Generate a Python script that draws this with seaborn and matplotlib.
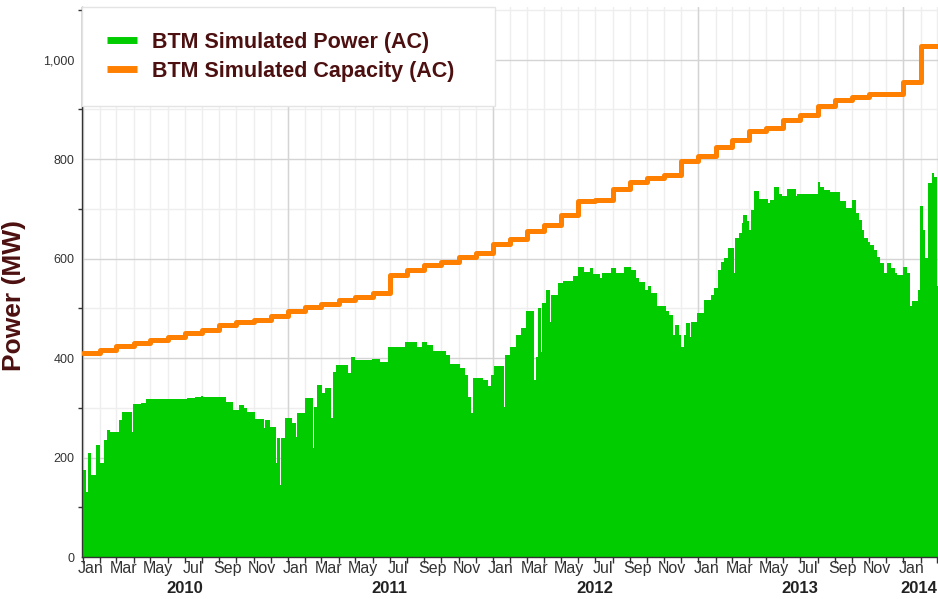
import numpy as np
import pandas as pd
import seaborn as sns
import matplotlib.pyplot as plt
import matplotlib.dates as mdates
from matplotlib.ticker import MultipleLocator, FuncFormatter
from matplotlib.lines import Line2D
from matplotlib.transforms import blended_transform_factory

# Daily simulated power, stored as change points (days after 2010-01-01) and MW level
START = pd.Timestamp('2010-01-01')
END_DAY = 1523

power_day = [0, 6, 8, 15, 23, 30, 37, 42, 48, 64, 70, 87, 89, 104, 113, 131, 185, 200, 210, 214,
             255, 267, 277, 286, 292, 307, 322, 324, 333, 343, 345, 350, 352, 360, 372, 379, 381,
             396, 409, 412, 416, 425, 431, 441, 445, 451, 472, 477, 484, 514, 515, 528, 543, 573,
             594, 603, 612, 624, 647, 653, 671, 680, 685, 691, 694, 713, 722, 726, 732, 749, 751,
             760, 771, 780, 789, 803, 806, 810, 816, 818, 825, 831, 833, 846, 855, 872, 881, 893,
             902, 908, 920, 925, 940, 949, 964, 976, 985, 990, 1000, 1006, 1012, 1023, 1038, 1044,
             1050, 1054, 1062, 1065, 1070, 1074, 1080, 1082, 1094, 1106, 1119, 1124, 1130, 1136,
             1142, 1148, 1159, 1161, 1168, 1173, 1176, 1182, 1186, 1189, 1195, 1204, 1219, 1224,
             1231, 1239, 1245, 1254, 1269, 1272, 1308, 1312, 1320, 1331, 1348, 1359, 1370, 1376,
             1382, 1387, 1391, 1397, 1402, 1408, 1414, 1420, 1427, 1432, 1439, 1446, 1450, 1460,
             1468, 1472, 1476, 1487, 1490, 1495, 1499, 1504, 1512, 1516, 1520]
power_mw = [175, 131, 209, 165, 225, 189, 235, 255, 252, 275, 292, 252, 308, 310, 317, 318, 320, 322, 324, 322,
            312, 296, 306, 300, 292, 278, 260, 276, 262, 189, 239, 145, 239, 280, 269, 242, 290,
            320, 219, 302, 346, 330, 339, 280, 373, 386, 370, 403, 396, 383, 398, 393, 422, 433,
            423, 433, 426, 415, 406, 388, 380, 366, 322, 289, 360, 356, 343, 366, 385, 302, 406,
            423, 447, 460, 495, 356, 403, 500, 413, 510, 536, 473, 527, 551, 555, 565, 584, 574,
            581, 569, 561, 571, 581, 572, 584, 578, 561, 554, 537, 544, 531, 505, 494, 487,
            447, 467, 447, 423, 447, 470, 443, 472, 490, 517, 527, 541, 577, 594,
            601, 621, 571, 641, 651, 671, 688, 675, 658, 698, 735, 720, 712, 718,
            745, 730, 725, 740, 725, 730, 755, 745, 738, 733, 716, 701, 718, 692,
            678, 658, 641, 634, 628, 618, 604, 591, 571, 591, 581, 571, 567, 584,
            571, 504, 514, 537, 705, 658, 601, 752, 772, 765, 544]

# Monthly installed capacity, Jan 2010 .. Feb 2014
cap_month = pd.date_range('2010-01-01', '2014-02-01', freq='MS')
cap_mw = [411, 416, 424, 431, 437, 443, 450, 457, 466, 473, 477, 484,
          494, 502, 509, 516, 523, 531, 567, 577, 587, 594, 603, 611,
          630, 640, 655, 668, 688, 715, 718, 740, 754, 762, 768, 797,
          807, 824, 839, 856, 863, 878, 888, 906, 919, 926, 931, 931,
          956, 1027]

years = [2010, 2011, 2012, 2013, 2014]

GREEN = '#00CC00'
ORANGE = '#FF8000'
MAROON = '#4d1010'

sns.set_style('white')
plt.rcParams['font.family'] = ['Liberation Sans', 'DejaVu Sans']

end_date = START + pd.Timedelta(days=END_DAY)
px = list(START + pd.to_timedelta(power_day, unit='D')) + [end_date]
py = power_mw + [power_mw[-1]]
cap_df = pd.DataFrame({'date': list(cap_month) + [end_date], 'mw': cap_mw + [cap_mw[-1]]})

fig = plt.figure(figsize=(9.38, 5.99), dpi=100)
ax = fig.add_axes([82 / 938, 42 / 599, 856 / 938, 550 / 599])

ax.fill_between(px, py, step='post', color=GREEN, lw=0, zorder=2)
sns.lineplot(data=cap_df, x='date', y='mw', drawstyle='steps-post', color=ORANGE,
             lw=3.6, estimator=None, ax=ax, zorder=3)

ax.set_xlim(START - pd.Timedelta(days=1.8), START + pd.Timedelta(days=1522.5))
ax.set_ylim(0, 1106)

# y axis
ax.yaxis.set_major_locator(MultipleLocator(200))
ax.yaxis.set_minor_locator(MultipleLocator(100))
ax.yaxis.set_major_formatter(FuncFormatter(lambda v, p: f'{int(v):,}'))
ax.set_ylabel('Power (MW)', fontsize=19, fontweight='bold', color=MAROON)
ax.yaxis.set_label_coords(-0.066, 0.475)
ax.set_xlabel('')

# x axis: tick marks at month starts, labels mid-month every other month
ax.xaxis.set_minor_locator(mdates.MonthLocator())
ax.xaxis.set_major_locator(mdates.MonthLocator(bymonth=[1, 3, 5, 7, 9, 11], bymonthday=15))
ax.xaxis.set_major_formatter(mdates.DateFormatter('%b'))

ax.tick_params(axis='y', which='major', length=4, width=1, color='#333333',
               labelsize=9, labelcolor='#333333', pad=1.5)
ax.tick_params(axis='y', which='minor', length=3, width=1, color='#333333', left=True)
ax.tick_params(axis='x', which='major', length=0, labelsize=11.5, labelcolor='#333333', pad=3)
ax.tick_params(axis='x', which='minor', length=4, width=1, color='#333333', bottom=True)

ax.set_axisbelow(True)
ax.grid(which='major', axis='y', color='#d4d4d4', lw=1)
ax.grid(which='minor', axis='y', color='#eeeeee', lw=1)
ax.grid(which='minor', axis='x', color='#eeeeee', lw=1)
for y in years:
    ax.axvline(pd.Timestamp(f'{y}-01-01'), color='#d4d4d4', lw=1, zorder=0.6)

for side in ['top', 'right']:
    ax.spines[side].set_visible(False)
for side in ['left', 'bottom']:
    ax.spines[side].set_color('#333333')
    ax.spines[side].set_linewidth(1)

# year labels under the month labels
trans = blended_transform_factory(ax.transData, ax.transAxes)
for y in years:
    if y < 2014:
        xc = pd.Timestamp(f'{y}-07-01')
    else:
        xc = pd.Timestamp('2014-01-29')
    ax.text(mdates.date2num(xc), -0.057, str(y), transform=trans, ha='center', va='center',
            fontsize=12, fontweight='bold', color='#222222')

handles = [Line2D([0], [0], color=GREEN, lw=5, solid_capstyle='butt'),
           Line2D([0], [0], color=ORANGE, lw=5, solid_capstyle='butt')]
leg = ax.legend(handles, ['BTM Simulated Power (AC)', 'BTM Simulated Capacity (AC)'],
                loc='upper left', bbox_to_anchor=(0, 0, 0.483, 1), mode='expand',
                borderaxespad=0, borderpad=1.15, handlelength=1.4, handletextpad=0.7,
                labelspacing=0.36, fancybox=False, framealpha=1, facecolor='white',
                edgecolor='#e4e4e4', prop={'weight': 'bold', 'size': 15.5})
for t in leg.get_texts():
    t.set_color(MAROON)

fig.savefig('out.png', dpi=100)
